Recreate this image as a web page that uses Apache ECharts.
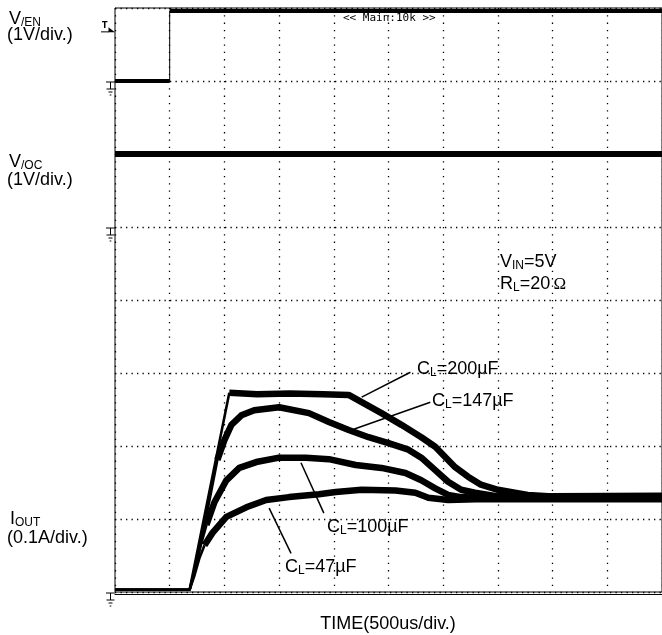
<!DOCTYPE html>
<html><head><meta charset="utf-8">
<script src="https://cdn.jsdelivr.net/npm/echarts@6/dist/echarts.min.js"></script>
<style>html,body{margin:0;padding:0;background:#fff}#c{width:662px;height:635px}</style>
</head><body><div id="c"></div>
<script>
// ---------------- data (time in µs, current in A, voltage in V) ----------------
const t47  = [0, 682, 727, 773, 818, 891, 1018, 1200, 1382, 1591, 1864, 2018, 2255, 2564, 2745, 2864, 3045, 3300, 5000];
const i47  = [0.003, 0.003, 0.023, 0.047, 0.064, 0.081, 0.103, 0.116, 0.126, 0.130, 0.134, 0.137, 0.140, 0.139, 0.136, 0.129, 0.126, 0.127, 0.127];
const t100 = [0, 682, 727, 773, 836, 909, 1018, 1136, 1291, 1500, 1745, 1955, 2200, 2436, 2655, 2800, 2927, 3045, 3164, 3400, 5000];
const i100 = [0.003, 0.003, 0.027, 0.058, 0.092, 0.123, 0.153, 0.170, 0.178, 0.184, 0.184, 0.182, 0.174, 0.170, 0.163, 0.153, 0.142, 0.133, 0.130, 0.128, 0.128];
const t147 = [0, 682, 773, 864, 936, 1000, 1064, 1155, 1273, 1500, 1773, 1955, 2136, 2318, 2500, 2682, 2800, 2927, 3045, 3164, 3291, 3500, 5000];
const i147 = [0.003, 0.003, 0.058, 0.126, 0.181, 0.208, 0.229, 0.242, 0.249, 0.253, 0.245, 0.233, 0.222, 0.212, 0.204, 0.195, 0.184, 0.167, 0.151, 0.140, 0.136, 0.131, 0.130];
const t200 = [0, 682, 1045, 1300, 1600, 1900, 2136, 2255, 2436, 2618, 2800, 2927, 3018, 3109, 3227, 3345, 3500, 3655, 3773, 4000, 5000];
const i200 = [0.003, 0.003, 0.273, 0.271, 0.272, 0.271, 0.270, 0.260, 0.245, 0.229, 0.212, 0.199, 0.185, 0.171, 0.158, 0.147, 0.140, 0.136, 0.133, 0.131, 0.132];
const venTimeUs = [0, 500, 500, 5000];
const venVolts  = [0, 0, 0.96, 0.96];
const vocTimeUs = [0, 5000];
const vocVolts  = [1.0, 1.0];
const triggerLevelV = 0.68;
const capNames = ['47µF', '100µF', '147µF', '200µF'];
// scope settings
const usPerDiv = 500, ampsPerDiv = 0.1, voltsPerDiv = 1;
const venGroundDiv = 7, vocGroundDiv = 5, ioutGroundDiv = 0;
// -------------------------------------------------------------------------------

const toAxis = (v, g) => (g + v / voltsPerDiv) * ampsPerDiv;
const pairs = (t, v) => t.map((x, i) => [x, v[i]]);

const curves = [
  {t: t47,  v: i47,  thickFrom: 818,  leader: [[1409, 0.115], [1609, 0.053]]},
  {t: t100, v: i100, thickFrom: 836,  leader: [[1700, 0.177], [1909, 0.108]]},
  {t: t147, v: i147, thickFrom: 936,  leader: [[2182, 0.223], [2882, 0.260]]},
  {t: t200, v: i200, thickFrom: 1045, leader: [[2255, 0.267], [2700, 0.301]]}
];

const series = [];
const venPts = venTimeUs.map((x, i) => [x, toAxis(venVolts[i], venGroundDiv)]);
series.push({type:'line', data: venPts, symbol:'none', lineStyle:{color:'#000', width:1}});
series.push({type:'line', data: venPts.slice(0, 2), symbol:'none', lineStyle:{color:'#000', width:4}});
series.push({type:'line', data: venPts.slice(2), symbol:'none', lineStyle:{color:'#000', width:4}});
series.push({type:'line', data: vocTimeUs.map((x, i) => [x, toAxis(vocVolts[i], vocGroundDiv)]),
  symbol:'none', lineStyle:{color:'#000', width:6}});

curves.forEach((c, k) => {
  const pts = pairs(c.t, c.v.map(a => a + ioutGroundDiv * ampsPerDiv));
  series.push({type:'line', name: capNames[k], data: pts.filter(p => p[0] <= c.thickFrom),
    symbol:'none', lineStyle:{color:'#000', width:2.6}});
  series.push({type:'line', name: capNames[k], data: pts.filter(p => p[0] >= c.thickFrom),
    symbol:'none', lineStyle:{color:'#000', width:6.5, join:'round'},
    markLine:{silent:true, symbol:['none','none'], label:{show:false},
      lineStyle:{color:'#000', width:1.5, type:'solid'},
      data:[[{coord:c.leader[0]}, {coord:c.leader[1]}]]}});
});

const chart = echarts.init(document.getElementById('c'), null, {renderer:'canvas'});
chart.setOption({
  animation:false,
  backgroundColor:'#fff',
  grid:{left:115, top:8, width:550, height:584, show:true, borderColor:'#000', borderWidth:1, backgroundColor:'transparent'},
  xAxis:{type:'value', min:0, max:10 * usPerDiv, interval:usPerDiv,
    axisLine:{show:true, onZero:false, lineStyle:{color:'#000', width:1}}, offset:2,
    axisTick:{show:false}, axisLabel:{show:false},
    splitLine:{show:true, lineStyle:{color:'#000', width:1.3, type:[1.3, 6]}}},
  yAxis:{type:'value', min:0, max:8 * ampsPerDiv, interval:ampsPerDiv,
    axisLine:{show:false}, axisTick:{show:false}, axisLabel:{show:false},
    splitLine:{show:true, lineStyle:{color:'#000', width:1.3, type:[1.3, 4.2]}}},
  series
});

// ---------- annotations ----------
const RICH = {
  m:{fontFamily:'Liberation Sans', fontSize:18, color:'#000', verticalAlign:'bottom'},
  s:{fontFamily:'Liberation Sans', fontSize:12, color:'#000', verticalAlign:'bottom'},
  o:{fontFamily:'Liberation Serif', fontSize:17, color:'#000', verticalAlign:'bottom'}
};
function rt(x, baseline, parts, align) {
  return {type:'text', x, y: baseline + 3.5, silent:true, z:100,
    style:{text: parts.map(p => '{' + p[1] + '|' + p[0] + '}').join(''), rich: RICH,
      align: align || 'left', verticalAlign:'bottom'}};
}
const px = (t, a) => chart.convertToPixel({gridIndex:0}, [t, a]);
function ground(yPix) {
  const x0 = 106, xc = 110.5, y0 = yPix + 1;
  const ln = (x1, y1, x2, y2) => ({type:'line', silent:true, shape:{x1, y1, x2, y2}, style:{stroke:'#000', lineWidth:1}});
  return {type:'group', children:[
    ln(x0, y0, 115, y0), ln(xc, y0, xc, y0 + 7),
    ln(106.5, y0 + 7, 114.5, y0 + 7), ln(108.5, y0 + 10, 112.5, y0 + 10), ln(109.7, y0 + 13, 111.3, y0 + 13)
  ]};
}
const gVen = px(0, toAxis(0, venGroundDiv))[1];
const gVoc = px(0, toAxis(0, vocGroundDiv))[1];
const gIout = px(0, ioutGroundDiv * ampsPerDiv)[1];
const trig = px(0, toAxis(triggerLevelV, venGroundDiv))[1];

const graphics = [
  rt(9, 25, [['V','m'],['/EN','s']]),
  rt(7, 41, [['(1V/div.)','m']]),
  rt(9, 168, [['V','m'],['/OC','s']]),
  rt(7, 186, [['(1V/div.)','m']]),
  rt(10, 525, [['I','m'],['OUT','s']]),
  rt(7, 544, [['(0.1A/div.)','m']]),
  rt(500, 268, [['V','m'],['IN','s'],['=5V','m']]),
  rt(500, 290, [['R','m'],['L','s'],['=20','m'],[' ','s'],['Ω','o']]),
  rt(417, 375, [['C','m'],['L','s'],['=' + capNames[3],'m']]),
  rt(432, 407, [['C','m'],['L','s'],['=' + capNames[2],'m']]),
  rt(327, 533, [['C','m'],['L','s'],['=' + capNames[1],'m']]),
  rt(285, 573, [['C','m'],['L','s'],['=' + capNames[0],'m']]),
  rt(388, 630, [['TIME(500us/div.)','m']], 'center'),
  {type:'text', x:343, y:18, silent:true, z:100,
    style:{text:'<< Main:10k >>', fontFamily:'DejaVu Sans Mono', fontSize:11, fill:'#000', verticalAlign:'middle'}},
  ground(gVen), ground(gVoc), ground(gIout),
  {type:'group', children:[
    {type:'text', x:102, y:trig - 1, silent:true,
      style:{text:'T', fontFamily:'DejaVu Sans', fontSize:8, fontWeight:'bold', fill:'#000', verticalAlign:'bottom'}},
    {type:'line', silent:true, shape:{x1:101, y1:trig + 0.5, x2:109, y2:trig + 0.5}, style:{stroke:'#000', lineWidth:1}},
    {type:'polygon', silent:true, shape:{points:[[108.5, trig - 4], [108.5, trig + 1], [115, trig + 1]]}, style:{fill:'#000'}}
  ]}
];
chart.setOption({graphic: graphics});
</script>
</body></html>
